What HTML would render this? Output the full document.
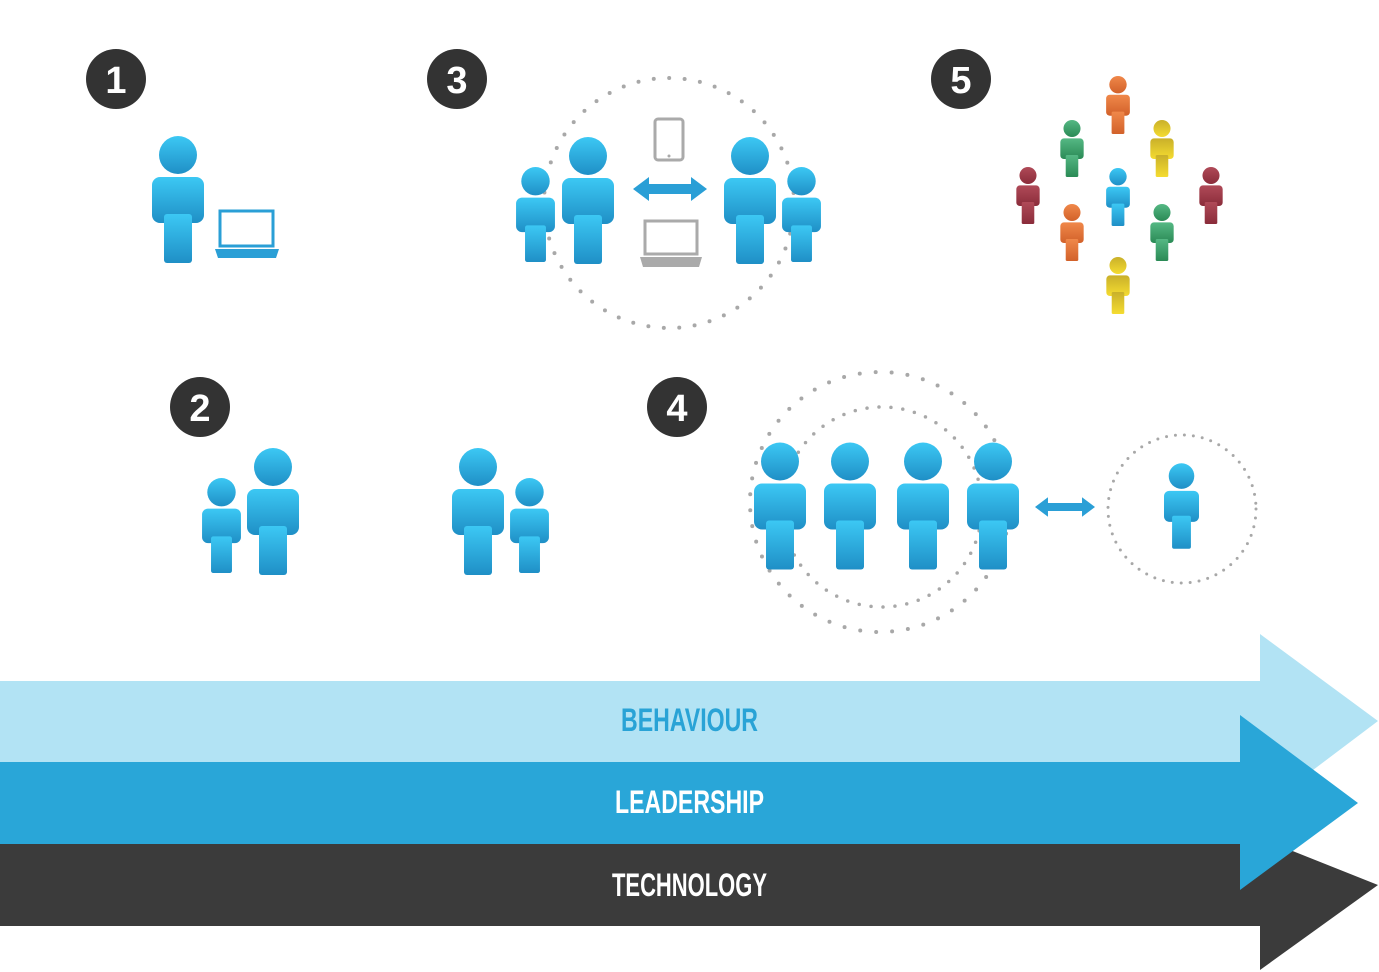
<!DOCTYPE html>
<html><head><meta charset="utf-8"><style>
html,body{margin:0;padding:0;background:#fff;width:1379px;height:972px;overflow:hidden}
</style></head><body>
<svg width="1379" height="972" viewBox="0 0 1379 972" xmlns="http://www.w3.org/2000/svg">
<defs>
<linearGradient id="gb" x1="0" y1="0" x2="0" y2="1"><stop offset="0" stop-color="#3cc8f4"/><stop offset="1" stop-color="#1f8fc6"/></linearGradient>
<linearGradient id="go" x1="0" y1="0" x2="0" y2="1"><stop offset="0" stop-color="#f0884a"/><stop offset="1" stop-color="#d2612a"/></linearGradient>
<linearGradient id="gg" x1="0" y1="0" x2="0" y2="1"><stop offset="0" stop-color="#55b884"/><stop offset="1" stop-color="#2a8a55"/></linearGradient>
<linearGradient id="gy" x1="0" y1="0" x2="0" y2="1"><stop offset="0" stop-color="#c9b02a"/><stop offset="1" stop-color="#f5dc30"/></linearGradient>
<linearGradient id="gr" x1="0" y1="0" x2="0" y2="1"><stop offset="0" stop-color="#b04a58"/><stop offset="1" stop-color="#8a2c3a"/></linearGradient>
<symbol id="p" viewBox="0 0 52 127" overflow="visible">
<circle cx="26" cy="19" r="19"/>
<rect x="0" y="41" width="52" height="46" rx="8"/>
<rect x="12" y="78" width="28" height="49" rx="3"/>
</symbol>
<symbol id="da" viewBox="0 0 74 24" overflow="visible">
<polygon points="0,12 16,0 16,7 58,7 58,0 74,12 58,24 58,17 16,17 16,24" />
</symbol>
</defs>
<g fill="none" stroke="#a8a8a8" stroke-width="4" stroke-linecap="round">
<circle cx="669" cy="203" r="125" stroke-dasharray="0 15.5"/>
<circle cx="880" cy="502" r="130" stroke-dasharray="0 16"/>
<circle cx="882" cy="507" r="100" stroke-width="3.5" stroke-dasharray="0 12"/>
</g>
<circle cx="1182" cy="509" r="74" fill="none" stroke="#a8a8a8" stroke-width="3" stroke-linecap="round" stroke-dasharray="0 9"/>
<g fill="#333">
<circle cx="116" cy="79" r="30"/><circle cx="457" cy="79" r="30"/><circle cx="961" cy="79" r="30"/>
<circle cx="200" cy="407" r="30"/><circle cx="677" cy="407" r="30"/>
</g>
<g fill="#fff" font-family="Liberation Sans, sans-serif" font-weight="bold" font-size="38" text-anchor="middle">
<text x="116" y="93">1</text><text x="457" y="93">3</text><text x="961" y="93">5</text>
<text x="200" y="421">2</text><text x="677" y="421">4</text>
</g>
<g fill="url(#gb)">
<use href="#p" x="152" y="136" width="52" height="127"/>
<use href="#p" x="562" y="137" width="52" height="127"/>
<use href="#p" x="724" y="137" width="52" height="127"/>
<use href="#p" x="516" y="167" width="39" height="95"/>
<use href="#p" x="782" y="167" width="39" height="95"/>
<use href="#p" x="247" y="448" width="52" height="127"/>
<use href="#p" x="202" y="478" width="39" height="95"/>
<use href="#p" x="452" y="448" width="52" height="127"/>
<use href="#p" x="510" y="478" width="39" height="95"/>
<use href="#p" x="754" y="442" width="52" height="128"/>
<use href="#p" x="824" y="442" width="52" height="128"/>
<use href="#p" x="897" y="442" width="52" height="128"/>
<use href="#p" x="967" y="442" width="52" height="128"/>
<use href="#p" x="1164" y="462" width="35" height="88"/>
<use href="#p" x="1106" y="168" width="24" height="58"/>
</g>
<use href="#p" x="1106" y="76" width="24" height="58" fill="url(#go)"/>
<use href="#p" x="1060" y="120" width="24" height="57" fill="url(#gg)"/>
<use href="#p" x="1150" y="120" width="24" height="57" fill="url(#gy)"/>
<use href="#p" x="1016" y="167" width="24" height="57" fill="url(#gr)"/>
<use href="#p" x="1199" y="167" width="24" height="57" fill="url(#gr)"/>
<use href="#p" x="1060" y="204" width="24" height="57" fill="url(#go)"/>
<use href="#p" x="1150" y="204" width="24" height="57" fill="url(#gg)"/>
<use href="#p" x="1106" y="257" width="24" height="57" fill="url(#gy)"/>
<g fill="#2a9fd6">
<use href="#da" x="633" y="177" width="74" height="24"/>
<use href="#da" x="1035" y="497" width="60" height="20"/>
</g>
<rect x="220" y="211" width="53" height="35" fill="none" stroke="#2a9fd6" stroke-width="3"/>
<path d="M215 249 H279 L276 258 H218 Z" fill="#2a9fd6"/>
<rect x="655" y="119" width="28" height="41" rx="3" fill="none" stroke="#aaa" stroke-width="3"/>
<circle cx="669" cy="156" r="1.5" fill="#aaa"/>
<rect x="645" y="221" width="52" height="33" fill="none" stroke="#aaa" stroke-width="3"/>
<path d="M640 257 H702 L699 267 H643 Z" fill="#aaa"/>
<polygon points="0,681 1260,681 1260,634 1378,721 1260,810 1260,762 0,762" fill="#b2e3f4"/>
<polygon points="0,844 1260,844 1260,838 1378,885 1260,970 1260,926 0,926" fill="#3b3b3b"/>
<polygon points="0,762 1240,762 1240,715 1358,803 1240,890 1240,844 0,844" fill="#29a6d8"/>
<g font-family="Liberation Sans, sans-serif" font-weight="bold" font-size="32">
<text x="621" y="731" fill="#29a3d6" textLength="137" lengthAdjust="spacingAndGlyphs">BEHAVIOUR</text>
<text x="615" y="813" fill="#fff" textLength="149" lengthAdjust="spacingAndGlyphs">LEADERSHIP</text>
<text x="612" y="896" fill="#fff" textLength="155" lengthAdjust="spacingAndGlyphs">TECHNOLOGY</text>
</g>
</svg>
</body></html>
